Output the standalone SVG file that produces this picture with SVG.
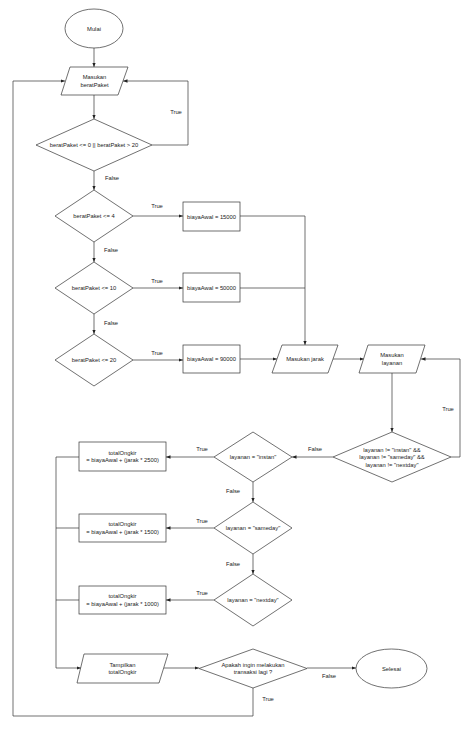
<svg xmlns="http://www.w3.org/2000/svg" width="474" height="730" viewBox="0 0 474 730">
<style>
.s{fill:#fff;stroke:#333;stroke-width:0.7}
.c{fill:none;stroke:#333;stroke-width:0.7}
text{font-family:"Liberation Sans",Arial,sans-serif;font-size:5.8px;fill:#222;text-anchor:middle;dominant-baseline:central}
</style>
<defs>
<marker id="a" viewBox="0 0 10 10" refX="10" refY="5" markerWidth="4.5" markerHeight="4.5" markerUnits="userSpaceOnUse" orient="auto"><path d="M0,1 L10,5 L0,9 z" fill="#222"/></marker>
</defs>
<rect width="474" height="730" fill="#fff"/>
<g id="connectors">
<path class="c" d="M94,48 V67" marker-end="url(#a)"/>
<path class="c" d="M94,95 V119" marker-end="url(#a)"/>
<path class="c" d="M152,145 H188 V81 H123" marker-end="url(#a)"/>
<path class="c" d="M94,171 V190" marker-end="url(#a)"/>
<path class="c" d="M133,216 H183" marker-end="url(#a)"/>
<path class="c" d="M94,242 V262" marker-end="url(#a)"/>
<path class="c" d="M133,288 H183" marker-end="url(#a)"/>
<path class="c" d="M94,314 V334" marker-end="url(#a)"/>
<path class="c" d="M133,360 H183" marker-end="url(#a)"/>
<path class="c" d="M240,216 H305 V345" marker-end="url(#a)"/>
<path class="c" d="M240,288 H305"/>
<path class="c" d="M240,359 H277" marker-end="url(#a)"/>
<path class="c" d="M333,359 H364" marker-end="url(#a)"/>
<path class="c" d="M392,373 V432" marker-end="url(#a)"/>
<path class="c" d="M451,457 H460 V359 H421" marker-end="url(#a)"/>
<path class="c" d="M333,457 H292" marker-end="url(#a)"/>
<path class="c" d="M214,457 H166" marker-end="url(#a)"/>
<path class="c" d="M253,482 V502" marker-end="url(#a)"/>
<path class="c" d="M214,528 H166" marker-end="url(#a)"/>
<path class="c" d="M253,554 V574" marker-end="url(#a)"/>
<path class="c" d="M214,600 H166" marker-end="url(#a)"/>
<path class="c" d="M79,457 H56 V668 H81" marker-end="url(#a)"/>
<path class="c" d="M79,528 H56"/>
<path class="c" d="M79,600 H56"/>
<path class="c" d="M164,668 H199" marker-end="url(#a)"/>
<path class="c" d="M307,668 H356" marker-end="url(#a)"/>
<path class="c" d="M253,688 V716 H13 V81 H65" marker-end="url(#a)"/>
<text x="176" y="112">True</text>
<text x="112" y="178">False</text>
<text x="157" y="206">True</text>
<text x="111" y="250">False</text>
<text x="157" y="281">True</text>
<text x="111" y="323">False</text>
<text x="157" y="353">True</text>
<text x="448" y="409">True</text>
<text x="315" y="449">False</text>
<text x="202" y="449">True</text>
<text x="233" y="491">False</text>
<text x="202" y="521">True</text>
<text x="233" y="564">False</text>
<text x="202" y="593">True</text>
<text x="268" y="699">True</text>
<text x="329" y="676">False</text>
</g>
<g id="mulai"><ellipse class="s" cx="94" cy="28.5" rx="29" ry="19.5"/><text x="94" y="28.5">Mulai</text></g>
<g id="inputBerat"><path class="s" d="M70,67 H128 L118,95 H61 Z"/><text x="94.5" y="77">Masukan</text><text x="94.5" y="84.5">beratPaket</text></g>
<g id="cekBerat"><path class="s" d="M94,119 L152,145 L94,171 L36,145 Z"/><text x="94" y="145">beratPaket &lt;= 0 || beratPaket &gt; 20</text></g>
<g id="cek4"><path class="s" d="M94,190 L133,216 L94,242 L55,216 Z"/><text x="94" y="216">beratPaket &lt;= 4</text></g>
<g id="cek10"><path class="s" d="M94,262 L133,288 L94,314 L55,288 Z"/><text x="94" y="288">beratPaket &lt;= 10</text></g>
<g id="cek20"><path class="s" d="M94,334 L133,360 L94,386 L55,360 Z"/><text x="94" y="360">beratPaket &lt;= 20</text></g>
<g id="biaya1"><rect class="s" x="183" y="202" width="57" height="29"/><text x="211.5" y="216.5">biayaAwal = 15000</text></g>
<g id="biaya2"><rect class="s" x="183" y="273" width="57" height="29"/><text x="211.5" y="287.5">biayaAwal = 50000</text></g>
<g id="biaya3"><rect class="s" x="183" y="345" width="57" height="28"/><text x="211.5" y="359">biayaAwal = 90000</text></g>
<g id="inputJarak"><path class="s" d="M282,345 H338 L328,373 H272 Z"/><text x="305" y="359">Masukan jarak</text></g>
<g id="inputLayanan"><path class="s" d="M368,345 H425 L416,373 H359 Z"/><text x="392" y="355">Masukan</text><text x="392" y="362.5">layanan</text></g>
<g id="cekLayanan"><path class="s" d="M392,432 L451,457 L392,482 L333,457 Z"/><text x="392" y="449.5">layanan != "instan" &amp;&amp;</text><text x="392" y="457">layanan != "sameday" &amp;&amp;</text><text x="392" y="464.5">layanan != "nextday"</text></g>
<g id="cekInstan"><path class="s" d="M253,432 L292,457 L253,482 L214,457 Z"/><text x="253" y="457">layanan = "instan"</text></g>
<g id="cekSameday"><path class="s" d="M253,502 L292,528 L253,554 L214,528 Z"/><text x="253" y="528">layanan = "sameday"</text></g>
<g id="cekNextday"><path class="s" d="M253,574 L292,600 L253,626 L214,600 Z"/><text x="253" y="600">layanan = "nextday"</text></g>
<g id="total1"><rect class="s" x="79" y="442" width="87" height="29"/><text x="122.5" y="452.5">totalOngkir</text><text x="122.5" y="460">= biayaAwal + (jarak * 2500)</text></g>
<g id="total2"><rect class="s" x="79" y="514" width="87" height="28"/><text x="122.5" y="524">totalOngkir</text><text x="122.5" y="531.5">= biayaAwal + (jarak * 1500)</text></g>
<g id="total3"><rect class="s" x="79" y="586" width="87" height="28"/><text x="122.5" y="596">totalOngkir</text><text x="122.5" y="603.5">= biayaAwal + (jarak * 1000)</text></g>
<g id="tampilkan"><path class="s" d="M84,654 H168 L159,683 H77 Z"/><text x="122.5" y="664.5">Tampilkan</text><text x="122.5" y="672">totalOngkir</text></g>
<g id="cekUlang"><path class="s" d="M253,649 L307,668.5 L253,688 L199,668.5 Z"/><text x="253" y="664.5">Apakah ingin melakukan</text><text x="253" y="672">transaksi lagi ?</text></g>
<g id="selesai"><ellipse class="s" cx="391.5" cy="668.5" rx="35.5" ry="19.5"/><text x="391.5" y="668.5">Selesai</text></g>
</svg>
